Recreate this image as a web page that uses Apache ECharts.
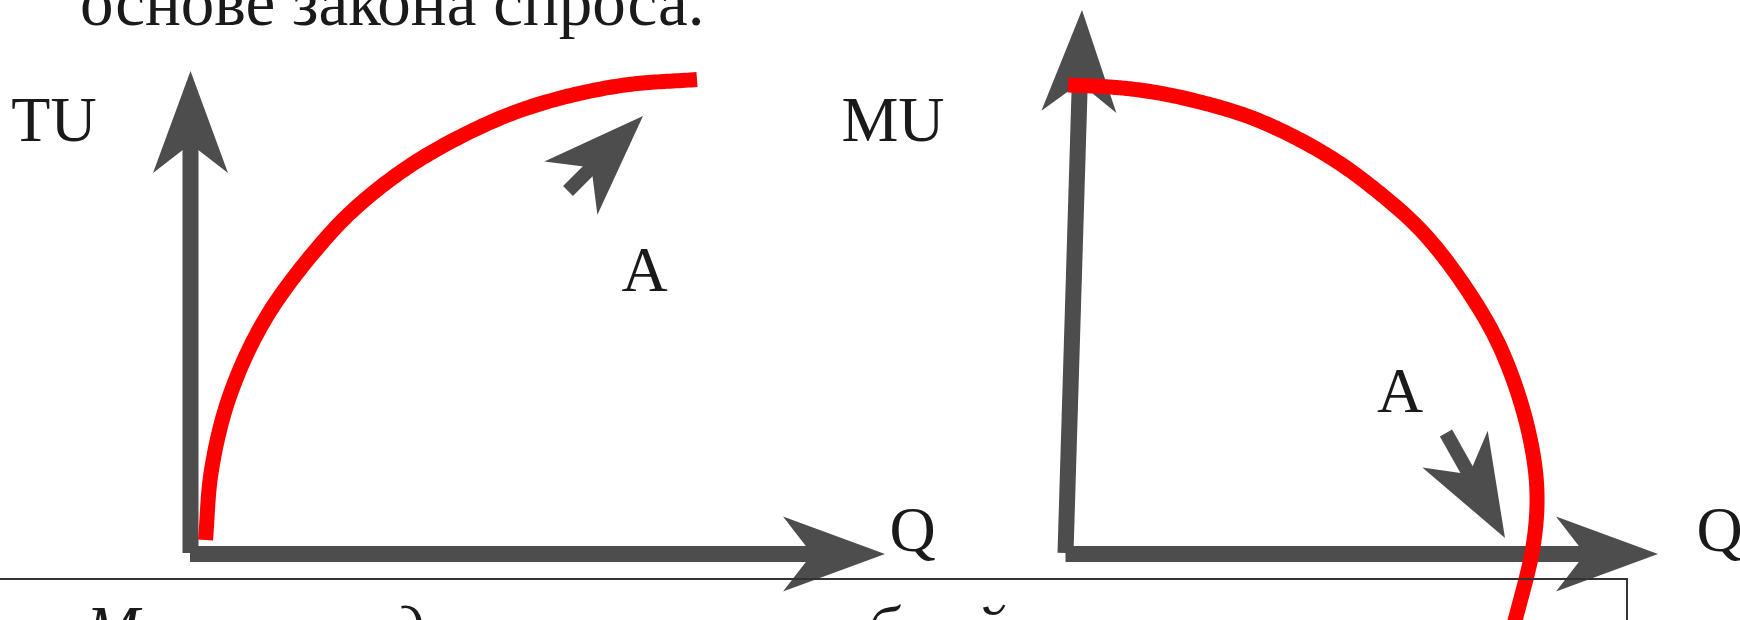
<!DOCTYPE html>
<html>
<head>
<meta charset="utf-8">
<script src="https://cdn.jsdelivr.net/npm/echarts@6/dist/echarts.min.js"></script>
<style>
  html, body { margin: 0; padding: 0; background: #ffffff; }
  #chart { width: 1740px; height: 620px; }
</style>
</head>
<body>
<div id="chart"></div>
<script>
// Total utility curve (left panel): quantity Q vs total utility TU
const tuCurve = [
  [0.30, 0.28], [0.42, 1.68], [0.79, 3.18], [1.53, 4.76], [2.73, 6.34],
  [3.53, 7.12], [4.63, 7.92], [6.15, 8.70], [7.33, 9.10], [8.69, 9.38],
  [10.13, 9.49]
];
// Marginal utility curve (right panel): quantity Q vs marginal utility MU
const muCurve = [
  [0.05, 9.38], [0.89, 9.34], [1.69, 9.25], [2.69, 9.04], [3.79, 8.70],
  [5.09, 8.06], [6.13, 7.34], [7.25, 6.32], [8.41, 4.68], [8.95, 3.50],
  [9.31, 2.22], [9.43, 1.20], [9.35, 0.14], [9.01, -1.26], [8.93, -1.56]
];
// Axis arrows, tail -> tip: [x0, y0, x1, y1]
const tuAxes = [[0, 0.02, 0, 9.66], [-0.01, 0, 13.89, 0]];
const muAxes = [[0, 0.02, 0.33, 10.88], [0, 0, 11.85, 0]];
// Direction pointers next to point A
const tuPointer = [[7.55, 7.26, 9.05, 8.76]];
const muPointer = [[7.61, 2.42, 8.79, 0.32]];
// Axis captions and point names
const tuLabels = [[-2.73, 8.6, 'TU'], [9.08, 5.6, 'A'], [14.44, 0.4, 'Q']];
const muLabels = [[-3.45, 8.6, 'MU'], [6.69, 3.17, 'A'], [13.08, 0.4, 'Q']];
// Running text around the figure
const headingText = 'основе закона спроса.';
const footGlyphs = ['М', 'д', 'б', 'й'];

const GRAY = '#4d4d4d';
const RED = '#ff0000';
const INK = '#1a1a1a';
const SERIF = '"Liberation Serif", "DejaVu Serif", serif';

// Arrow with a notched head; tip lands exactly on the data point
function arrowRenderer(shaftWidth) {
  return function (params, api) {
    const p0 = api.coord([api.value(0), api.value(1)]);
    const p1 = api.coord([api.value(2), api.value(3)]);
    const dx = p1[0] - p0[0], dy = p1[1] - p0[1];
    const len = Math.hypot(dx, dy);
    const ux = dx / len, uy = dy / len;
    const nx = -uy, ny = ux;
    const HEAD = 102, HALF = 37.5, NOTCH = 73;
    const bx = p1[0] - ux * HEAD, by = p1[1] - uy * HEAD;
    const kx = p1[0] - ux * NOTCH, ky = p1[1] - uy * NOTCH;
    const sx = p1[0] - ux * (NOTCH - 12), sy = p1[1] - uy * (NOTCH - 12);
    return {
      type: 'group',
      children: [
        {
          type: 'line',
          shape: { x1: p0[0], y1: p0[1], x2: sx, y2: sy },
          style: { stroke: GRAY, lineWidth: shaftWidth, lineCap: 'butt' }
        },
        {
          type: 'polygon',
          shape: {
            points: [
              [p1[0], p1[1]],
              [bx + nx * HALF, by + ny * HALF],
              [kx, ky],
              [bx - nx * HALF, by - ny * HALF]
            ]
          },
          style: { fill: GRAY }
        }
      ]
    };
  };
}

function arrowSeries(data, panel, shaftWidth) {
  return {
    type: 'custom',
    xAxisIndex: panel, yAxisIndex: panel,
    silent: true, z: 2,
    renderItem: arrowRenderer(shaftWidth),
    data: data
  };
}

// Centripetal Catmull-Rom through pixel points, sampled densely
function splinePoints(pts, steps) {
  const n = pts.length;
  const out = [pts[0]];
  const get = i => {
    if (i < 0) return [2 * pts[0][0] - pts[1][0], 2 * pts[0][1] - pts[1][1]];
    if (i > n - 1) return [2 * pts[n - 1][0] - pts[n - 2][0], 2 * pts[n - 1][1] - pts[n - 2][1]];
    return pts[i];
  };
  const knot = (a, b) => Math.max(Math.sqrt(Math.hypot(b[0] - a[0], b[1] - a[1])), 1e-4);
  const mix = (a, b, ta, tb, t) => [
    (tb - t) / (tb - ta) * a[0] + (t - ta) / (tb - ta) * b[0],
    (tb - t) / (tb - ta) * a[1] + (t - ta) / (tb - ta) * b[1]
  ];
  for (let i = 0; i < n - 1; i++) {
    const P0 = get(i - 1), P1 = get(i), P2 = get(i + 1), P3 = get(i + 2);
    const t0 = 0, t1 = t0 + knot(P0, P1), t2 = t1 + knot(P1, P2), t3 = t2 + knot(P2, P3);
    for (let s = 1; s <= steps; s++) {
      const t = t1 + (t2 - t1) * s / steps;
      const A1 = mix(P0, P1, t0, t1, t);
      const A2 = mix(P1, P2, t1, t2, t);
      const A3 = mix(P2, P3, t2, t3, t);
      const B1 = mix(A1, A2, t0, t2, t);
      const B2 = mix(A2, A3, t1, t3, t);
      out.push(mix(B1, B2, t1, t2, t));
    }
  }
  return out;
}

function curveSeries(data, panel) {
  return {
    type: 'custom',
    xAxisIndex: panel, yAxisIndex: panel,
    silent: true, z: 3,
    renderItem: function (params, api) {
      if (params.dataIndex !== 0) return null;
      const px = data.map(p => api.coord(p));
      return {
        type: 'polyline',
        shape: { points: splinePoints(px, 24) },
        style: { stroke: RED, lineWidth: 15, fill: null, lineCap: 'butt', lineJoin: 'round' }
      };
    },
    data: data
  };
}

function labelSeries(items, panel) {
  return {
    type: 'scatter',
    xAxisIndex: panel, yAxisIndex: panel,
    silent: true, z: 4,
    symbolSize: 0,
    clip: false,
    itemStyle: { opacity: 1 },
    label: {
      show: true,
      position: 'inside',
      formatter: '{b}',
      color: INK,
      opacity: 1,
      fontFamily: SERIF,
      fontSize: 64,
      align: 'center',
      verticalAlign: 'middle'
    },
    data: items.map(d => ({ name: d[2], value: [d[0], d[1]] }))
  };
}

const footX = [86, 392, 867, 974];

const chart = echarts.init(document.getElementById('chart'), null, { renderer: 'canvas' });
chart.setOption({
  animation: false,
  backgroundColor: '#ffffff',
  grid: [
    { left: 0.5, top: 4, width: 1000, height: 616 },
    { left: 740, top: 4, width: 1000, height: 616 }
  ],
  xAxis: [
    { gridIndex: 0, type: 'value', min: -3.8, max: 16.2, show: false },
    { gridIndex: 1, type: 'value', min: -6.51, max: 13.49, show: false }
  ],
  yAxis: [
    { gridIndex: 0, type: 'value', min: -1.32, max: 11, show: false },
    { gridIndex: 1, type: 'value', min: -1.32, max: 11, show: false }
  ],
  graphic: [
    {
      type: 'text', x: 80, y: 7.3, z: 10, silent: true,
      style: {
        text: headingText, fill: INK, font: '67px ' + SERIF,
        align: 'left', verticalAlign: 'middle'
      }
    },
    {
      type: 'line', z: 10, silent: true,
      shape: { x1: 0, y1: 579, x2: 1627, y2: 579 },
      style: { stroke: '#333333', lineWidth: 2 }
    },
    {
      type: 'line', z: 10, silent: true,
      shape: { x1: 1627, y1: 578, x2: 1627, y2: 620 },
      style: { stroke: '#333333', lineWidth: 2 }
    }
  ].concat(footGlyphs.map((g, i) => ({
    type: 'text', x: footX[i], y: 633, z: 10, silent: true,
    style: {
      text: g, fill: INK, font: 'italic 64px ' + SERIF,
      align: 'left', verticalAlign: 'middle'
    }
  }))),
  series: [
    arrowSeries(tuAxes, 0, 16),
    arrowSeries(tuPointer, 0, 14),
    curveSeries(tuCurve, 0),
    labelSeries(tuLabels, 0),
    arrowSeries(muAxes, 1, 16),
    arrowSeries(muPointer, 1, 14),
    curveSeries(muCurve, 1),
    labelSeries(muLabels, 1)
  ]
});
</script>
</body>
</html>
